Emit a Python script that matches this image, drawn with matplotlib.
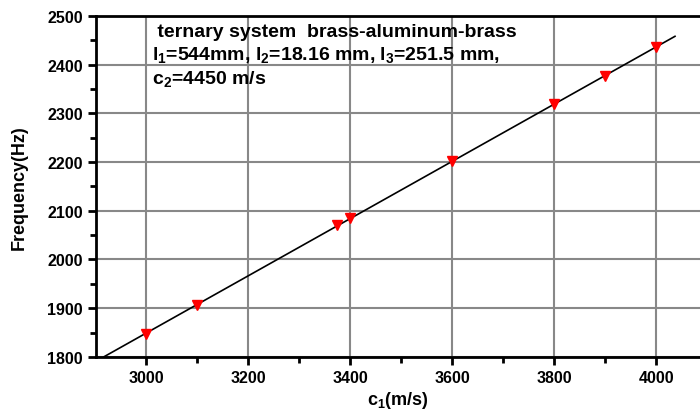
import numpy as np
import matplotlib
matplotlib.use("Agg")
import matplotlib.pyplot as plt
from matplotlib.ticker import MultipleLocator

c1 = [3000, 3100, 3375, 3400, 3600, 3800, 3900, 4000]
freq = [1848, 1906, 2070, 2085, 2202, 2319, 2377, 2435]
fit_x = [2918, 4037]
xticks = [3000, 3200, 3400, 3600, 3800, 4000]
yticks = [1800, 1900, 2000, 2100, 2200, 2300, 2400, 2500]

plt.rcParams['font.family'] = ['Liberation Sans', 'DejaVu Sans']
plt.rcParams['font.weight'] = 'bold'
plt.rcParams['mathtext.fontset'] = 'custom'
plt.rcParams['mathtext.rm'] = 'Liberation Sans:bold'
plt.rcParams['mathtext.it'] = 'Liberation Sans:bold'
plt.rcParams['mathtext.bf'] = 'Liberation Sans:bold'

fig = plt.figure(figsize=(7, 4.1), dpi=100)
ax = fig.add_axes([0.137, 0.127, 0.863, 0.832])

coef = np.polyfit(c1, freq, 1)
ax.plot(fit_x, np.polyval(coef, fit_x), color='black', lw=1.2, zorder=3)
ax.plot(c1, freq, linestyle='none', marker='v', markersize=7.5, color='#ff0000',
        markeredgecolor='#ff0000', zorder=4)

ax.set_xlim(2902, 4086)
ax.set_ylim(1800, 2500)
ax.set_xticks(xticks)
ax.set_yticks(yticks)
ax.xaxis.set_minor_locator(MultipleLocator(100))
ax.yaxis.set_minor_locator(MultipleLocator(50))
ax.grid(True, which='major', color='#888888', lw=1.5)
ax.set_axisbelow(True)

for s in ['left', 'bottom', 'top']:
    ax.spines[s].set_linewidth(2)
ax.spines['right'].set_visible(False)
ax.tick_params(which='major', direction='out', length=6, width=2, labelsize=11.5)
ax.tick_params(which='minor', direction='out', length=4, width=2)
for lab in ax.get_xticklabels() + ax.get_yticklabels():
    lab.set_fontweight('bold')

ax.set_xlabel(r'c$_1$(m/s)', fontsize=13, fontweight='bold', labelpad=3)
ax.set_ylabel('Frequency(Hz)', fontsize=13, fontweight='bold', labelpad=14)

ax.text(0.093, 0.978, ' ternary system  brass-aluminum-brass', transform=ax.transAxes,
        fontsize=14, fontweight='bold', va='top', ha='left')
ax.text(0.093, 0.918, r'l$_1$=544mm, l$_2$=18.16 mm, l$_3$=251.5 mm,', transform=ax.transAxes,
        fontsize=14, fontweight='bold', va='top', ha='left')
ax.text(0.093, 0.846, r'c$_2$=4450 m/s', transform=ax.transAxes,
        fontsize=14, fontweight='bold', va='top', ha='left')

fig.savefig('out.png', dpi=100)
